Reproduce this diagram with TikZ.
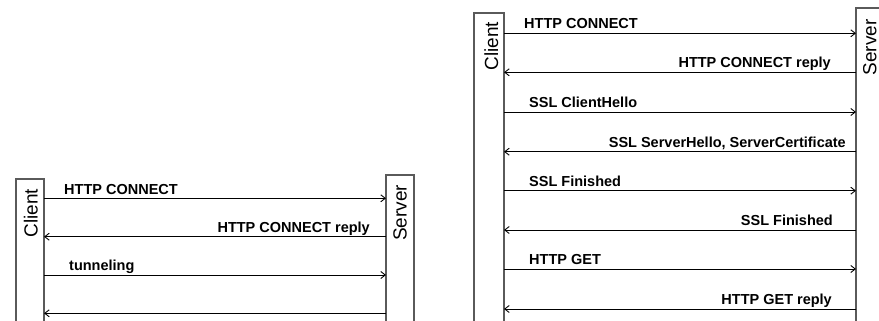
\documentclass[tikz,border=0pt]{standalone}
\usepackage{fontspec}
\setmainfont{Liberation Sans}
\usetikzlibrary{arrows.meta}
\tikzset{
  lane/.style={draw=laneline, line width=1.3pt, fill=white, inner sep=0pt, outer sep=0pt, anchor=north west},
  lanetext/.style={rotate=90, anchor=base, inner sep=0pt, font=\fontsize{19}{22}\selectfont},
  msg/.style={draw=black, line width=0.9pt, -{Straight Barb[length=4.5pt,width=7pt]}},
  fwdlabel/.style={anchor=base west, inner sep=0pt, font=\bfseries\fontsize{14.5}{17}\selectfont},
  bwdlabel/.style={anchor=base east, inner sep=0pt, font=\bfseries\fontsize{14.5}{17}\selectfont},
}
\definecolor{laneline}{HTML}{5A5A5A}
\begin{document}
\begin{tikzpicture}[x=1pt,y=-1pt]
\useasboundingbox (0,0) rectangle (879,321);
% ---------- left diagram ----------
\node[lane, minimum width=28pt, minimum height=160pt] (lc) at (16,179) {};
\node[lane, minimum width=28pt, minimum height=160pt] (ls) at (386,175) {};
\node[lanetext] (lct) at (37.7,213) {Client};
\node[lanetext] (lst) at (406.7,213) {Server};
\coordinate (l1a) at (lc.east |- 0,198.3);
\coordinate (l1b) at (ls.west |- 0,198.3);
\coordinate (l2a) at (lc.east |- 0,236.7);
\coordinate (l2b) at (ls.west |- 0,236.7);
\coordinate (l3a) at (lc.east |- 0,275);
\coordinate (l3b) at (ls.west |- 0,275);
\coordinate (l4a) at (lc.east |- 0,313.3);
\coordinate (l4b) at (ls.west |- 0,313.3);
\draw[msg] (l1a) -- (l1b);
\draw[msg] (l2b) -- (l2a);
\draw[msg] (l3a) -- (l3b);
\draw[msg] (l4b) -- (l4a);
\node[fwdlabel] (ll1) at (64,194) {HTTP CONNECT};
\node[bwdlabel] (ll2) at (370,232.5) {HTTP CONNECT reply};
\node[fwdlabel] (ll3) at (69,270.8) {tunneling};
% ---------- right diagram ----------
\node[lane, minimum width=30pt, minimum height=330pt] (rc) at (474,13) {};
\node[lane, minimum width=30pt, minimum height=330pt] (rs) at (856,8) {};
\node[lanetext] (rct) at (498,46) {Client};
\node[lanetext] (rst) at (876.3,47.5) {Server};
\foreach \i/\y in {1/33.3,2/72.3,3/112,4/151.7,5/190.7,6/230,7/269,8/309}{
  \coordinate (r\i a) at (rc.east |- 0,\y);
  \coordinate (r\i b) at (rs.west |- 0,\y);
}
\draw[msg] (r1a) -- (r1b);
\draw[msg] (r2b) -- (r2a);
\draw[msg] (r3a) -- (r3b);
\draw[msg] (r4b) -- (r4a);
\draw[msg] (r5a) -- (r5b);
\draw[msg] (r6b) -- (r6a);
\draw[msg] (r7a) -- (r7b);
\draw[msg] (r8b) -- (r8a);
\node[fwdlabel] (rl1) at (524,29) {HTTP CONNECT};
\node[bwdlabel] (rl2) at (831,68) {HTTP CONNECT reply};
\node[fwdlabel] (rl3) at (529,107.7) {SSL ClientHello};
\node[bwdlabel] (rl4) at (846,147.3) {SSL ServerHello, ServerCertificate};
\node[fwdlabel] (rl5) at (529,186.4) {SSL Finished};
\node[bwdlabel] (rl6) at (833,225.7) {SSL Finished};
\node[fwdlabel] (rl7) at (529,264.7) {HTTP GET};
\node[bwdlabel] (rl8) at (832,304.7) {HTTP GET reply};
\end{tikzpicture}
\end{document}
